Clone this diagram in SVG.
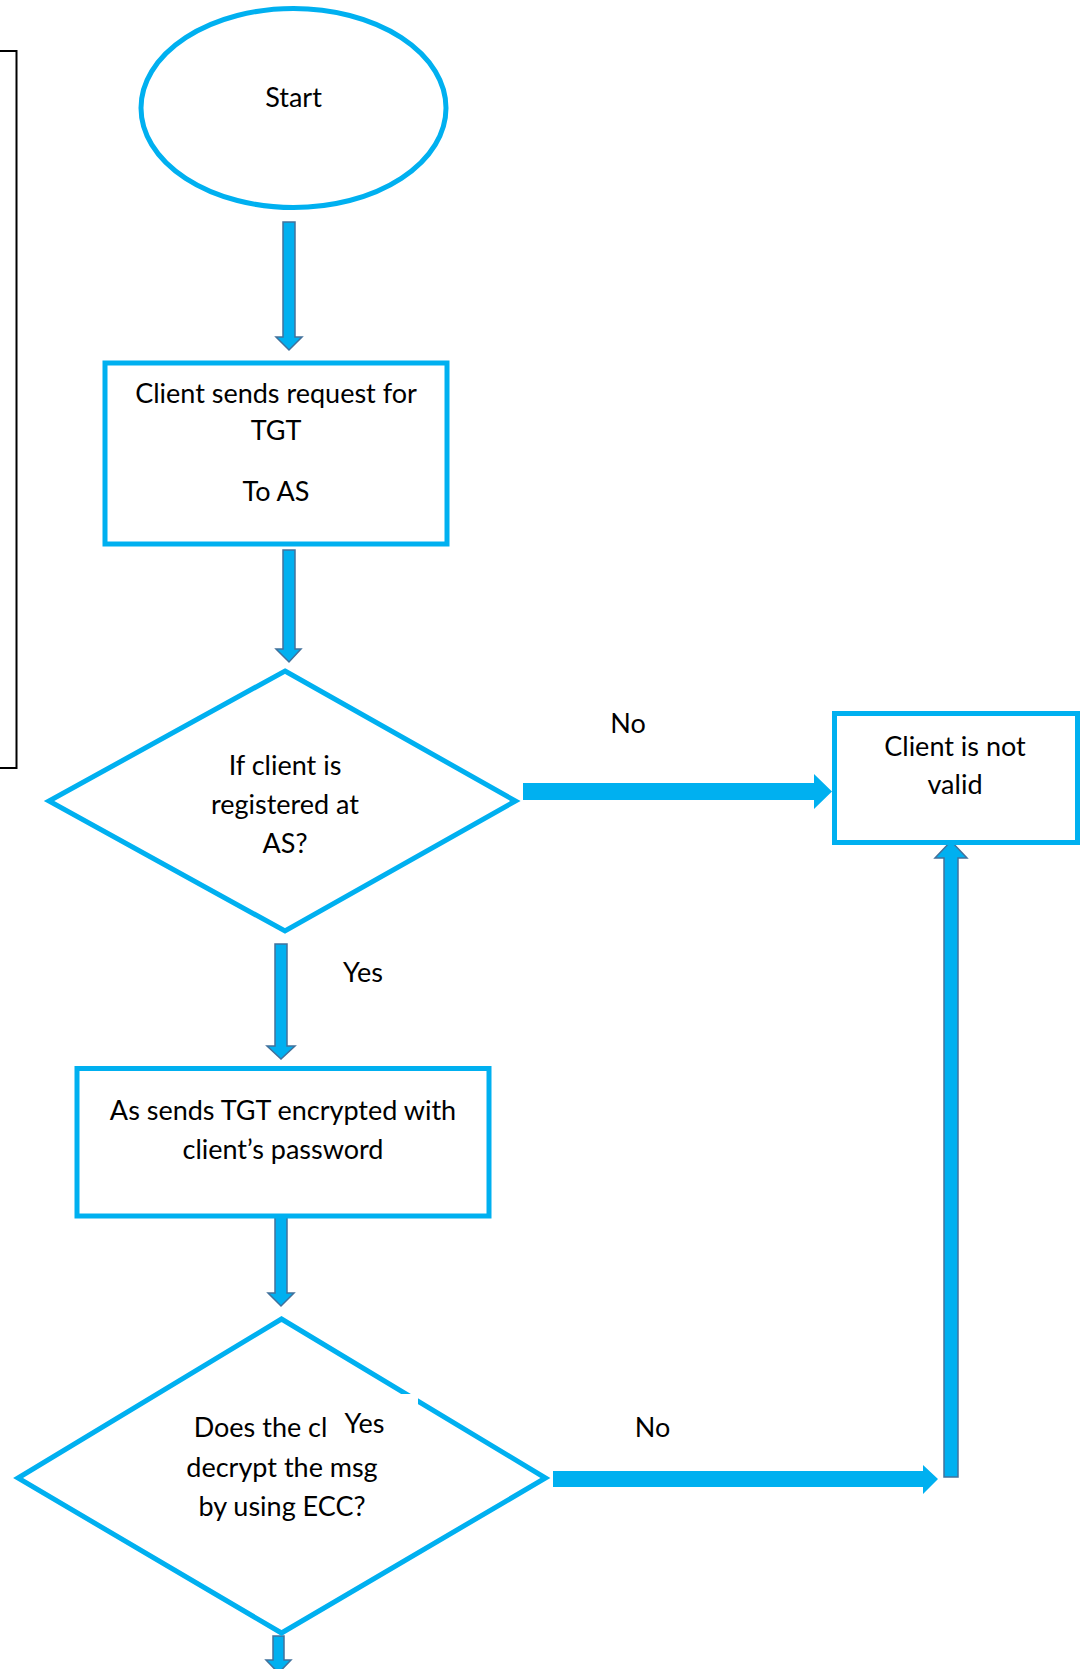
<svg xmlns="http://www.w3.org/2000/svg" width="1086" height="1669" viewBox="0 0 1086 1669">
  <style>
    .shape { fill: #ffffff; stroke: #00B0F0; stroke-width: 5; }
    .frame { fill: none; stroke: #000000; stroke-width: 2; }
    .down { fill: #00B0F0; stroke: #41719C; stroke-width: 1.5; stroke-linejoin: miter; }
    .flat { fill: #00B0F0; stroke: none; }
    .label { font-family: Lato, "Liberation Sans", sans-serif; font-size: 27px; fill: #000000; text-anchor: middle; }
  </style>

  <rect x="0" y="0" width="1086" height="1669" fill="#ffffff"/>

  <!-- partially visible frame at the left margin -->
  <g id="side-frame">
    <rect class="frame" x="-6" y="51" width="22.5" height="717"/>
  </g>

  <!-- connectors -->
  <g id="connectors">
    <polygon class="down" points="283,222 295,222 295,337 302,337 289,350 276,337 283,337"/>
    <polygon class="down" points="283,550 295,550 295,649 301,649 289,662 276,649 283,649"/>
    <polygon class="down" points="275,944 287,944 287,1046 295,1046 281,1059 267,1046 275,1046"/>
    <polygon class="down" points="275,1216 287,1216 287,1293 294,1293 281,1306 268,1293 275,1293"/>
    <polygon class="down" points="273,1636 284,1636 284,1660 291,1660 278.5,1673 266,1660 273,1660"/>
    <polygon class="down" points="944,1477 958,1477 958,858 967,858 951,841 935,858 944,858"/>
    <polygon class="flat" points="523,783 814,783 814,774 832,791.5 814,809 814,800 523,800"/>
    <polygon class="flat" points="553,1471 923,1471 923,1465 938,1479 923,1494 923,1487 553,1487"/>
    <text class="label" x="628" y="733">No</text>
    <text class="label" x="363" y="982">Yes</text>
    <text class="label" x="652.5" y="1437">No</text>
  </g>

  <g id="start">
    <ellipse class="shape" cx="293.5" cy="108" rx="152.5" ry="99.5"/>
    <text class="label" x="293.5" y="107">Start</text>
  </g>

  <g id="request-tgt">
    <rect class="shape" x="105" y="363" width="342" height="181"/>
    <text class="label" x="276" y="403">Client sends request for</text>
    <text class="label" x="276" y="440">TGT</text>
    <text class="label" x="276" y="501">To AS</text>
  </g>

  <g id="registered-check">
    <polygon class="shape" points="285,671 515.5,801 285,931 49,801"/>
    <text class="label" x="285" y="775">If client is</text>
    <text class="label" x="285" y="814">registered at</text>
    <text class="label" x="285" y="853">AS?</text>
  </g>

  <g id="not-valid">
    <rect class="shape" x="834.5" y="713.5" width="243" height="129"/>
    <text class="label" x="955" y="756">Client is not</text>
    <text class="label" x="955" y="794">valid</text>
  </g>

  <g id="send-tgt">
    <rect class="shape" x="77" y="1068.5" width="412" height="147.5"/>
    <text class="label" x="283" y="1120">As sends TGT encrypted with</text>
    <text class="label" x="283" y="1159">client’s password</text>
  </g>

  <g id="decrypt-check">
    <polygon class="shape" points="281.5,1319 545.5,1478 281.5,1633 18,1478"/>
    <text class="label" x="193.7" y="1437" style="text-anchor:start">Does the cl</text>
    <text class="label" x="282" y="1477">decrypt the msg</text>
    <text class="label" x="282" y="1516">by using ECC?</text>
  </g>

  <!-- label box sitting over the decision shape -->
  <g id="yes-label">
    <rect x="326" y="1394" width="92" height="52" fill="#ffffff"/>
    <text class="label" x="364.5" y="1432.5">Yes</text>
  </g>
</svg>
